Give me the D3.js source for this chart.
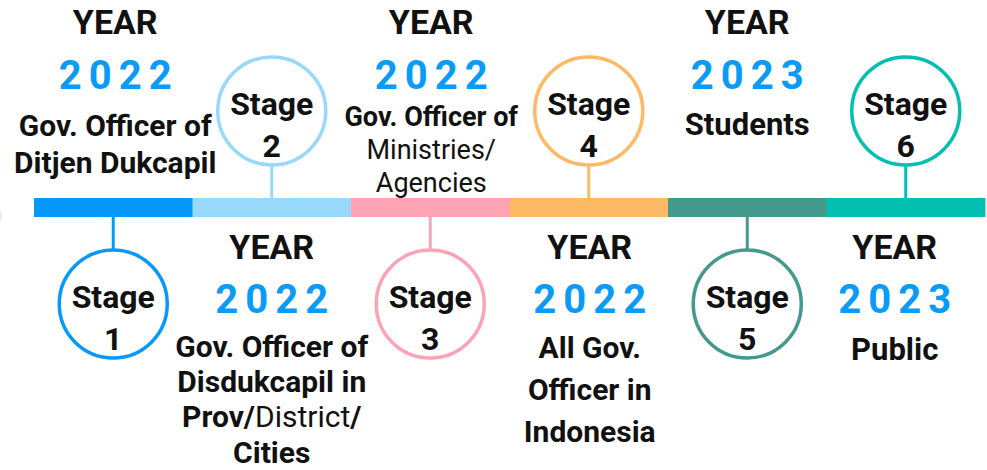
<!DOCTYPE html>
<head>
<meta charset="utf-8">
<script src="https://d3js.org/d3.v7.min.js"></script>
<style>
    body { margin: 0; background: #fff; }
    svg { display: block; }
    text { font-family: Roboto, "DejaVu Sans", sans-serif; fill: #111; text-anchor: middle; }
    .yearlbl { font-weight: bold; font-size: 34px; }
    .year { font-weight: bold; font-size: 40px; fill: #0a9af7; letter-spacing: 7px; }
    .stage { font-weight: bold; font-size: 32px; }
</style>
</head>
<body>
<svg id="chart" width="987" height="470"></svg>
<script>
    // data
    var stages = [1, 2, 3, 4, 5, 6];
    var yearLabel = "YEAR";
    var years = ["2022", "2022", "2022", "2022", "2023", "2023"];
    var colors = ["#0699fb", "#98d8fa", "#fda3b4", "#fdba64", "#43998b", "#02bfb2"];
    // each line = list of [text, bold?]
    var descriptions = [
        [[["Gov. Officer of", 1]], [["Ditjen Dukcapil", 1]]],
        [[["Gov. Officer of", 1]], [["Disdukcapil in", 1]], [["Prov/", 1], ["District", 0], ["/", 1]], [["Cities", 1]]],
        [[["Gov. Officer of", 1]], [["Ministries/", 0]], [["Agencies", 0]]],
        [[["All Gov.", 1]], [["Officer in", 1]], [["Indonesia", 1]]],
        [[["Students", 1]]],
        [[["Public", 1]]]
    ];

    // layout per stage (odd stages: circle below, text above)
    var layout = [
        {dx: 2, size: 30, lh: 37, first: 136},
        {dx: 0, size: 30, lh: 35.2, first: 357},
        {dx: 1, size: 27, lh: 33, first: 126},
        {dx: 1, size: 30, lh: 42, first: 358},
        {dx: 0, size: 31, lh: 37, first: 135},
        {dx: -11, size: 31, lh: 37, first: 360}
    ];

    var svg = d3.select("#chart");
    var barTop = 198, barH = 19, r = 54;

    var x = d3.scaleBand().domain(stages).range([34, 985]).padding(0);
    var cx = function(d) { return x(d) + x.bandwidth() / 2; };
    var below = function(d) { return d % 2 == 1; };
    var cy = function(d) { return below(d) ? 304 : 111; };

    // faint mark cut by the left edge
    svg.append("circle").attr("cx", -8).attr("cy", 216).attr("r", 10)
        .attr("fill", "#fde3e8");

    // stems
    svg.selectAll(".stem").data(stages).enter().append("line")
        .attr("x1", cx).attr("x2", cx)
        .attr("y1", function(d) { return below(d) ? barTop + barH : barTop; })
        .attr("y2", function(d) { return below(d) ? cy(d) - r : cy(d) + r; })
        .attr("stroke", function(d, i) { return colors[i]; })
        .attr("stroke-width", 3);

    // bar segments
    svg.selectAll(".seg").data(stages).enter().append("rect")
        .attr("x", function(d) { return x(d); })
        .attr("y", barTop)
        .attr("width", x.bandwidth() + 0.5)
        .attr("height", barH)
        .attr("fill", function(d, i) { return colors[i]; });

    // circles
    var g = svg.selectAll(".node").data(stages).enter().append("g")
        .attr("transform", function(d) { return "translate(" + cx(d) + "," + cy(d) + ")"; });
    g.append("circle").attr("r", r)
        .attr("fill", "#fff")
        .attr("stroke", function(d, i) { return colors[i]; })
        .attr("stroke-width", 3.5);
    g.append("text").attr("class", "stage").attr("y", 4).text("Stage");
    g.append("text").attr("class", "stage").attr("y", 46).text(function(d) { return d; });

    // labels: text sits on the opposite side of the circle
    stages.forEach(function(d, i) {
        var L = layout[i];
        var tx = cx(d) + L.dx;
        var top = below(d);
        var yl = top ? 34 : 259, yy = top ? 89 : 313;
        svg.append("text").attr("class", "yearlbl").attr("x", tx).attr("y", yl).text(yearLabel);
        svg.append("text").attr("class", "year").attr("x", tx + 3.5).attr("y", yy).text(years[i]);
        descriptions[i].forEach(function(line, j) {
            var t = svg.append("text").attr("x", tx).attr("y", L.first + j * L.lh)
                .style("font-size", L.size + "px");
            line.forEach(function(p) {
                t.append("tspan").attr("font-weight", p[1] ? "bold" : "normal").text(p[0]);
            });
        });
    });
</script>
</body>
